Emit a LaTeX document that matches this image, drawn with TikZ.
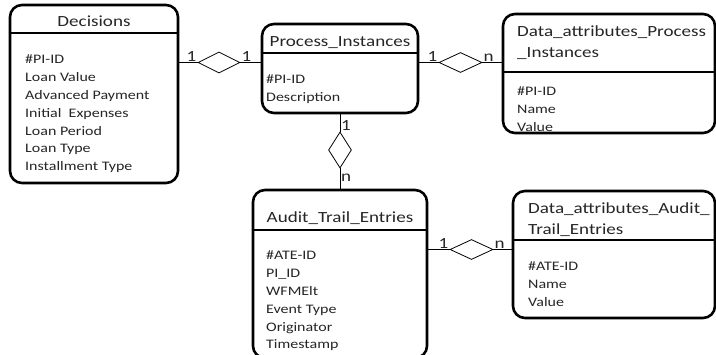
\documentclass[tikz,border=0pt]{standalone}
\usepackage{fontspec}
\setmainfont[FakeStretch=1.23]{Carlito}
\usetikzlibrary{positioning, shapes.geometric}
\definecolor{mText}{HTML}{262626}

\begin{document}
\begin{tikzpicture}[x=1pt, y=-1pt,
  entity/.style={draw, line width=2.6pt, rounded corners=12pt, inner sep=0pt},
  sep/.style={line width=1.4pt},
  title/.style={font=\fontsize{15.5}{20.5}\selectfont, text=mText, inner sep=0pt},
  attrs/.style={font=\fontsize{13}{17.8}\selectfont, text=mText, align=left, inner sep=0pt},
  rel/.style={draw, diamond, line width=0.8pt, inner sep=0pt},
  card/.style={font=\fontsize{15.5}{18}\selectfont, text=mText, inner sep=1pt},
  link/.style={line width=0.9pt},
]
  \fill[white] (0,0) rectangle (716,355);
  \useasboundingbox (0,0) rectangle (716,355);

  % entities
  \node[entity, minimum width=168pt, minimum height=178pt] (dec) at (94,94) {};
  \draw[sep] (dec.west |- 0,33) -- (dec.east |- 0,33);
  \node[title, anchor=base] (dec-t) at (94,27) {Decisions};
  \node[attrs, anchor=north west] (dec-a) at (25,55) {
    \#PI-ID\\ Loan Value\\ Advanced Payment\\ Initial~ Expenses\\
    Loan Period\\ Loan Type\\ Installment Type};

  \node[entity, minimum width=156pt, minimum height=89pt] (pi) at (340,68.5) {};
  \draw[sep] (pi.west |- 0,53) -- (pi.east |- 0,53);
  \node[title, anchor=base] (pi-t) at (340,47) {Process\_Instances};
  \node[attrs, anchor=north west] (pi-a) at (266,75) {\#PI-ID\\ Description};

  \node[entity, minimum width=212pt, minimum height=119pt] (dapi) at (609,73.5) {};
  \draw[sep] (dapi.west |- 0,72) -- (dapi.east |- 0,72);
  \node[title, align=left, anchor=north west] (dapi-t) at (517,26)
    {Data\_attributes\_Process\\ \_Instances};
  \node[attrs, anchor=north west] (dapi-a) at (517,87) {\#PI-ID\\ Name\\ Value};

  \node[entity, minimum width=174pt, minimum height=168pt] (ate) at (340,274) {};
  \draw[sep] (ate.west |- 0,230) -- (ate.east |- 0,230);
  \node[title, anchor=base] (ate-t) at (340,223) {Audit\_Trail\_Entries};
  \node[attrs, anchor=north west] (ate-a) at (266,251) {
    \#ATE-ID\\ PI\_ID\\ WFMElt\\ Event Type\\ Originator\\ Timestamp};

  \node[entity, minimum width=202pt, minimum height=127pt] (daate) at (614,254.5) {};
  \draw[sep] (daate.west |- 0,240) -- (daate.east |- 0,240);
  \node[title, align=left, anchor=north west] (daate-t) at (528,203)
    {Data\_attributes\_Audit\_\\ Trail\_Entries};
  \node[attrs, anchor=north west] (daate-a) at (528,262) {\#ATE-ID\\ Name\\ Value};

  % relationships
  \node[rel, minimum width=42pt, minimum height=21pt] (r1) at (219,62.5) {};
  \draw[link] (dec.east |- r1) -- (r1.west);
  \draw[link] (r1.east) -- (pi.west |- r1);
  \node[card, anchor=south east] (r1-a) at (r1.west) {1};
  \node[card, anchor=south west] (r1-b) at (r1.east) {1};

  \node[rel, minimum width=43pt, minimum height=20pt] (r2) at (460.5,62.5) {};
  \draw[link] (pi.east |- r2) -- (r2.west);
  \draw[link] (r2.east) -- (dapi.west |- r2);
  \node[card, anchor=south east] (r2-a) at (r2.west) {1};
  \node[card, anchor=south west] (r2-b) at (r2.east) {n};

  \node[rel, minimum width=23pt, minimum height=36pt] (r3) at (340,150) {};
  \draw[link] (pi.south) -- (r3.north);
  \draw[link] (r3.south) -- (ate.north);
  \node[card, anchor=south west] (r3-a) at (r3.north) {1};
  \node[card, anchor=north west, yshift=-4pt] (r3-b) at (r3.south) {n};

  \node[rel, minimum width=43pt, minimum height=20pt] (r4) at (471.5,249.5) {};
  \draw[link] (ate.east |- r4) -- (r4.west);
  \draw[link] (r4.east) -- (daate.west |- r4);
  \node[card, anchor=south east] (r4-a) at (r4.west) {1};
  \node[card, anchor=south west] (r4-b) at (r4.east) {n};
\end{tikzpicture}
\end{document}
